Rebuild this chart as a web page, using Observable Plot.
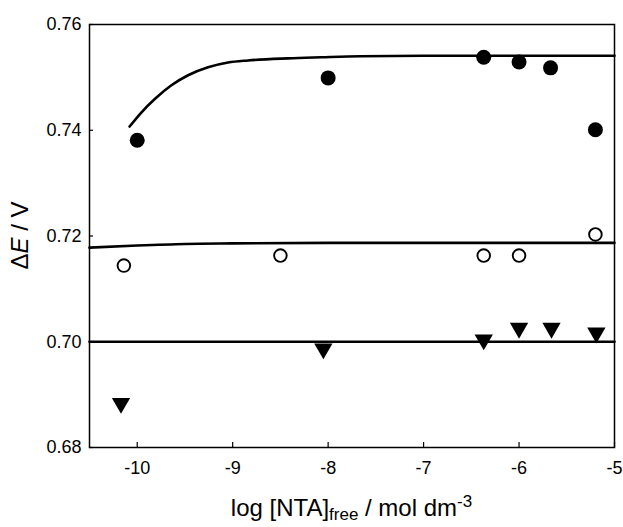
<!DOCTYPE html>
<html><head><meta charset="utf-8">
<script src="https://cdn.jsdelivr.net/npm/d3@7"></script>
<script src="https://cdn.jsdelivr.net/npm/@observablehq/plot@0.6"></script>
<style>body{margin:0;background:#fff}</style>
</head><body><div id="chart"></div>
<script>
const xTicks = [-10, -9, -8, -7, -6, -5];
const yTicks = [0.68, 0.70, 0.72, 0.74, 0.76];

// filled circles
const filledX = [-10.0, -8.0, -6.37, -6.0, -5.67, -5.2];
const filledY = [0.7381, 0.7499, 0.7538, 0.7529, 0.7518, 0.7401];
// open circles
const openX = [-10.14, -8.5, -6.37, -6.0, -5.2];
const openY = [0.7144, 0.7163, 0.7163, 0.7163, 0.7203];
// down triangles
const triX = [-10.17, -8.05, -6.37, -6.0, -5.66, -5.19];
const triY = [0.6879, 0.6982, 0.6999, 0.7021, 0.7021, 0.7012];

// fitted curves
const fitTopX = [-10.08, -9.955, -9.816, -9.642, -9.467, -9.258, -9.049, -8.84, -8.42, -8.07, -7.66, -7.0, -6.0, -5.0];
const fitTopY = [0.7407, 0.7434, 0.7459, 0.7485, 0.7504, 0.7519, 0.7528, 0.7532, 0.7536, 0.7538, 0.7540, 0.7541, 0.7541, 0.7541];
const fitMidX = [-10.5, -10.0, -9.5, -9.0, -8.0, -7.0, -6.0, -5.0];
const fitMidY = [0.7178, 0.7182, 0.7185, 0.7186, 0.7187, 0.7187, 0.7187, 0.7187];
const fitLowX = [-10.5, -5.0];
const fitLowY = [0.7000, 0.7000];

const zip = (xs, ys) => xs.map((x, i) => ({x, y: ys[i]}));
const filled = zip(filledX, filledY);
const open = zip(openX, openY);
const tri = zip(triX, triY);
const fits = [zip(fitTopX, fitTopY), zip(fitMidX, fitMidY), zip(fitLowX, fitLowY)];

const font = "'Liberation Sans', Arial, Helvetica, sans-serif";

const chart = Plot.plot({
  width: 623,
  height: 527,
  marginLeft: 89,
  marginRight: 9,
  marginTop: 24,
  marginBottom: 80,
  style: {fontFamily: font, fontSize: "18px", background: "#fff", color: "#000"},
  x: {domain: [-10.5, -5], label: null},
  y: {domain: [0.68, 0.76], label: null},
  marks: [
    ...fits.map(f => Plot.line(f, {x: "x", y: "y", stroke: "#000", strokeWidth: 2.6, curve: "monotone-x"})),
    Plot.dot(filled, {x: "x", y: "y", r: 7.5, fill: "#000", stroke: "none"}),
    Plot.dot(open, {x: "x", y: "y", r: 6.3, fill: "#fff", stroke: "#000", strokeWidth: 1.9}),
    Plot.dot(tri, {x: "x", y: "y", symbol: "triangle", rotate: 180, r: 6.8, fill: "#000", stroke: "none", dy: -2.5}),
    Plot.frame({stroke: "#000", strokeWidth: 1.5}),
    Plot.axisX(xTicks, {tickSize: -5, tickPadding: 19, tickFormat: d => String(d), fontSize: 18, strokeWidth: 1.2}),
    Plot.axisY(yTicks, {tickSize: -4, tickPadding: 12, tickFormat: d3.format(".2f"), fontSize: 18, strokeWidth: 1.2})
  ]
});
document.getElementById("chart").appendChild(chart);

const svg = d3.select(chart);
const xr = chart.scale("x").range;
const yr = chart.scale("y").range;
const xc = (xr[0] + xr[1]) / 2;
const yc = (yr[0] + yr[1]) / 2;

// x axis label
const xl = svg.append("text")
  .attr("x", xc).attr("y", 516)
  .attr("text-anchor", "middle")
  .attr("font-family", font)
  .attr("font-size", 24)
  .attr("fill", "#000");
xl.append("tspan").text("log [NTA]");
xl.append("tspan").attr("font-size", 17).attr("dy", 4).text("free");
xl.append("tspan").attr("dy", -4).text(" / mol dm");
xl.append("tspan").attr("font-size", 17).attr("dy", -9).text("-3");

// y axis label
const yl = svg.append("text")
  .attr("transform", `translate(22,${yc}) rotate(-90)`)
  .attr("text-anchor", "middle")
  .attr("dominant-baseline", "middle")
  .attr("font-family", font)
  .attr("font-size", 24)
  .attr("fill", "#000");
yl.append("tspan").text("Δ");
yl.append("tspan").attr("font-style", "italic").text("E");
yl.append("tspan").text(" / V");
</script>
</body></html>
